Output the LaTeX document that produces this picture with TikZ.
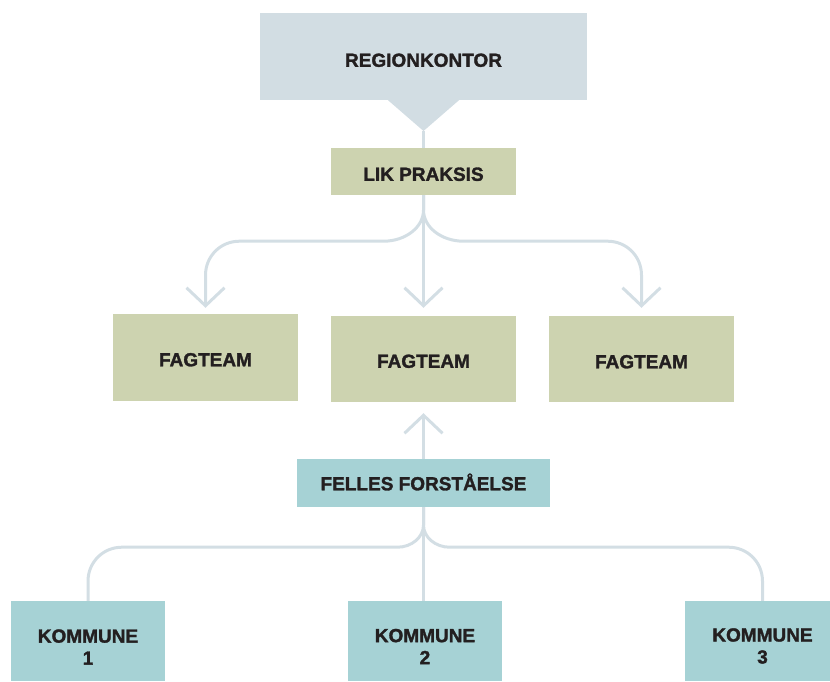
\documentclass[tikz,border=0pt]{standalone}
\usepackage{fontspec}
\usetikzlibrary{arrows.meta,calc}
% heavy label face: Liberation Sans Bold, slightly emboldened
\font\heavyfont="Liberation Sans/B:embolden=1.6" at 19pt
\newcommand\heavylines{\heavyfont\baselineskip=22pt\relax}
\definecolor{regionblue}{HTML}{D2DDE3}
\definecolor{sage}{HTML}{CDD3B0}
\definecolor{teal}{HTML}{A6D2D5}
\definecolor{linec}{HTML}{D3DEE4}
\definecolor{ink}{HTML}{231F20}
\tikzset{
  box/.style={rectangle, inner sep=0pt, draw=none},
  lbl/.style={inner sep=0pt, text=ink, font=\heavyfont,
              text height=13.6pt, text depth=0pt},
  lbl2/.style={inner sep=0pt, text=ink, align=center, font=\heavylines},
  conn/.style={draw=linec, line width=3pt},
  arr/.style={-{Straight Barb[length=18pt,width=38pt]}},
}
\begin{document}
\begin{tikzpicture}[x=1pt,y=-1pt]
\useasboundingbox (0,0) rectangle (830,681);
\clip (0,0) rectangle (830,681);

% boxes
\node[box, fill=regionblue, minimum width=327pt, minimum height=87pt] (region) at (423.5,56.5) {};
\coordinate (rtip) at (423.5,131);
\fill[regionblue] ([xshift=-35.5pt]region.south) -- ([xshift=35.5pt]region.south) -- (rtip) -- cycle;
\node[box, fill=sage, minimum width=185pt, minimum height=47pt] (lik) at (423.5,171.5) {};
\node[box, fill=sage, minimum width=185pt, minimum height=87pt] (fag1) at (205.5,357.5) {};
\node[box, fill=sage, minimum width=185pt, minimum height=86pt] (fag2) at (423.5,359) {};
\node[box, fill=sage, minimum width=185pt, minimum height=86pt] (fag3) at (641.5,359) {};
\node[box, fill=teal, minimum width=253pt, minimum height=48pt] (felles) at (423.5,483) {};
\node[box, fill=teal, minimum width=154pt, minimum height=80pt] (kom1) at (88,641) {};
\node[box, fill=teal, minimum width=154pt, minimum height=80pt] (kom2) at (425,641) {};
\node[box, fill=teal, minimum width=155pt, minimum height=80pt] (kom3) at (762.5,641) {};

% labels
\node[lbl] (region-t) at ([yshift=-3.5pt]region.center) {REGIONKONTOR};
\node[lbl] (lik-t) at ([yshift=-2.5pt]lik.center) {LIK PRAKSIS};
\node[lbl] (fag1-t) at ([yshift=-2pt]fag1.center) {FAGTEAM};
\node[lbl] (fag2-t) at ([yshift=-2pt]fag2.center) {FAGTEAM};
\node[lbl] (fag3-t) at ([yshift=-2.5pt]fag3.center) {FAGTEAM};
\node[lbl] (felles-t) at ([yshift=-0.5pt]felles.center) {FELLES FORSTÅELSE};
\node[lbl2] (kom1-t) at ([yshift=-6pt]kom1.center) {KOMMUNE\\1};
\node[lbl2] (kom2-t) at ([yshift=-5.5pt]kom2.center) {KOMMUNE\\2};
\node[lbl2] (kom3-t) at ([yshift=-5pt]kom3.center) {KOMMUNE\\3};

% connectors
\draw[conn] (rtip) -- (lik.north);
\draw[conn, arr, shorten >=8pt] (lik.south) -- (fag2.north);
\draw[conn, arr, shorten >=6pt] (lik.south) -- ++(0,15)
  .. controls +(0,17) and +(22,0) .. ++(-40,31)
  -- ++(-144,0)
  .. controls +(-19,0) and +(0,-19) .. ++(-34,34)
  -- (fag1.north);
\draw[conn, arr, shorten >=8pt] (lik.south) -- ++(0,15)
  .. controls +(0,17) and +(-22,0) .. ++(40,31)
  -- ++(144,0)
  .. controls +(19,0) and +(0,-19) .. ++(34,34)
  -- (fag3.north);

\draw[conn, arr, shorten >=11pt] (felles.north) -- (fag2.south);
\draw[conn] (felles.south) -- (felles.south |- kom2.north);
\draw[conn] (felles.south) -- ++(0,18)
  .. controls +(0,12) and +(14,0) .. ++(-26,22)
  -- ++(-275.5,0)
  .. controls +(-19,0) and +(0,-19) .. ++(-34,34)
  -- (kom1.north);
\draw[conn] (felles.south) -- ++(0,18)
  .. controls +(0,12) and +(-14,0) .. ++(26,22)
  -- ++(279,0)
  .. controls +(19,0) and +(0,-19) .. ++(34,34)
  -- (kom3.north);
\end{tikzpicture}
\end{document}
